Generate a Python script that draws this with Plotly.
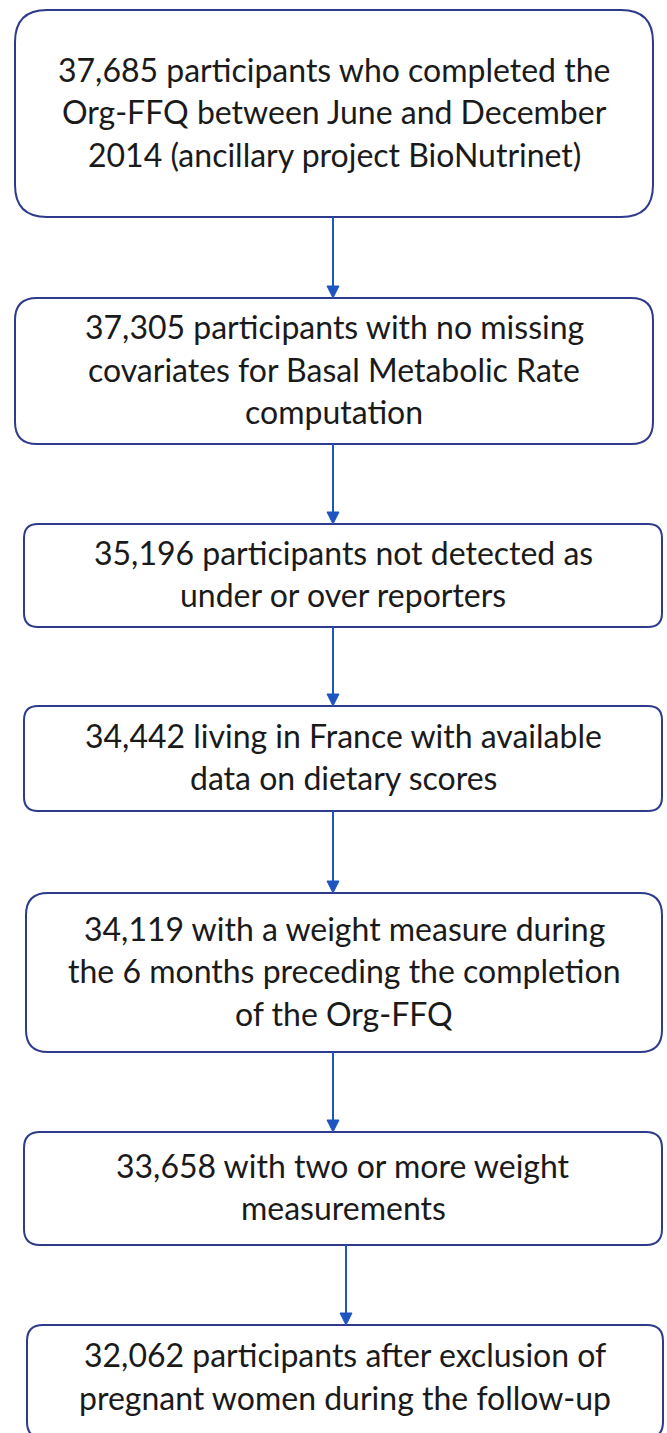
import plotly.graph_objects as go

# ---- content ----
box_texts = [
    ["37,685 participants who completed the",
     "Org-FFQ between June and December",
     "2014 (ancillary project BioNutrinet)"],
    ["37,305 participants with no missing",
     "covariates for Basal Metabolic Rate",
     "computation"],
    ["35,196 participants not detected as",
     "under or over reporters"],
    ["34,442 living in France with available",
     "data on dietary scores"],
    ["34,119 with a weight measure during",
     "the 6 months preceding the completion",
     "of the Org-FFQ"],
    ["33,658 with two or more weight",
     "measurements"],
    ["32,062 participants after exclusion of",
     "pregnant women during the follow-up"],
]

# ---- layout geometry (pixels) ----
box_x0 = [15, 15, 24, 24, 26, 24, 27]
box_x1 = [653, 653, 662, 662, 662, 662, 663]
box_y0 = [10, 298, 524, 706, 893, 1132, 1325]
box_y1 = [217, 444, 627, 811, 1052, 1245, 1438]
box_r = [32, 22, 14, 14, 22, 16, 16]
arrow_x = [333, 333, 333, 333, 333, 346]

W, H = 667, 1433
BORDER = "#2E3B8C"
ARROW = "#1F55C0"
TEXT = "#1A1A1A"
FONT = "Lato"
FS = 32
LINE_H = 42.5
Y_SHIFT = -2

fig = go.Figure()
shapes = []
annotations = []


def rounded_path(x0, y0, x1, y1, r):
    return (f"M {x0+r},{y0} L {x1-r},{y0} Q {x1},{y0} {x1},{y0+r} "
            f"L {x1},{y1-r} Q {x1},{y1} {x1-r},{y1} "
            f"L {x0+r},{y1} Q {x0},{y1} {x0},{y1-r} "
            f"L {x0},{y0+r} Q {x0},{y0} {x0+r},{y0} Z")


for i, lines in enumerate(box_texts):
    x0, x1, y0, y1, r = box_x0[i], box_x1[i], box_y0[i], box_y1[i], box_r[i]
    shapes.append(dict(type="path", path=rounded_path(x0, y0, x1, y1, r),
                       xref="x", yref="y", line=dict(color=BORDER, width=2),
                       fillcolor="white", layer="below"))
    yc = (y0 + min(y1, 1431)) / 2 if i == len(box_texts) - 1 else (y0 + y1) / 2
    n = len(lines)
    for k, t in enumerate(lines):
        y = yc + (k - (n - 1) / 2) * LINE_H + Y_SHIFT
        annotations.append(dict(x=(x0 + x1) / 2, y=y, xref="x", yref="y",
                                text=t, showarrow=False,
                                font=dict(family=FONT, size=FS, color=TEXT),
                                xanchor="center", yanchor="middle"))

# arrows
for i, ax in enumerate(arrow_x):
    ys = box_y1[i]
    ye = box_y0[i + 1]
    head = 12
    shapes.append(dict(type="line", x0=ax, x1=ax, y0=ys, y1=ye - head + 2,
                       xref="x", yref="y", line=dict(color=ARROW, width=2)))
    shapes.append(dict(type="path",
                       path=f"M {ax-6},{ye-head} L {ax+6},{ye-head} L {ax},{ye} Z",
                       xref="x", yref="y", fillcolor=ARROW,
                       line=dict(color=ARROW, width=1)))

fig.update_layout(
    width=W, height=H,
    margin=dict(l=0, r=0, t=0, b=0),
    paper_bgcolor="white", plot_bgcolor="white",
    xaxis=dict(range=[0, W], visible=False, fixedrange=True),
    yaxis=dict(range=[H, 0], visible=False, fixedrange=True),
    shapes=shapes, annotations=annotations, showlegend=False,
)

fig.write_html("out.html", config={"displayModeBar": False},
               post_script="document.body.style.margin='0';document.body.style.overflow='hidden';")
